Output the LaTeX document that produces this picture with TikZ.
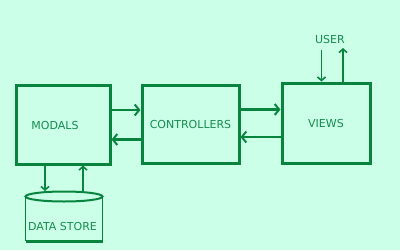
\documentclass[tikz,border=0pt]{standalone}
\usepackage{fontspec}
\setmainfont{DejaVu Sans}
\usetikzlibrary{arrows.meta}
\definecolor{mint}{RGB}{204,255,232}
\definecolor{leaf}{RGB}{8,132,62}
\definecolor{inkgreen}{RGB}{22,140,78}
\tikzset{
  block/.style={draw=leaf, line width=3pt, text=inkgreen, font=\fontsize{11}{13}\selectfont},
  flow/.style={draw=leaf, line width=2.6pt, -{Straight Barb[length=4.5pt,width=11pt,line width=2pt]}},
  thin flow/.style={draw=leaf, line width=1.6pt, -{Straight Barb[length=3.5pt,width=8pt,line width=1.6pt]}},
  label/.style={text=inkgreen, font=\fontsize{11}{13}\selectfont}
}
\begin{document}
\begin{tikzpicture}[x=1pt, y=-1pt]
\fill[mint] (0,0) rectangle (400,250);
\useasboundingbox (0,0) rectangle (400,250);
\node[block, minimum width=94pt, minimum height=79pt] (modals) at (63,124.5) {};
\node[label] at (55,125) {MODALS};
\node[block, minimum width=97pt, minimum height=78pt] (controllers) at (190.5,124) {CONTROLLERS};
\node[block, minimum width=88pt, minimum height=80pt] (views) at (326,123) {VIEWS};
\node[label] (user) at (330,39) {USER};
\node[label] (store) at (62.5,226) {DATA STORE};
% data store drum
\draw[leaf, line width=2pt] (64,196.5) ellipse (38.5pt and 5pt);
\draw[leaf, line width=1.6pt] (25.5,196.5) -- (25.5,241) (102.5,196.5) -- (102.5,241);
\draw[leaf, line width=3pt] (25.5,241) -- (102.5,241);
\coordinate (storein) at (45,191);
\coordinate (storeout) at (83,191);
% arrows
\draw[flow] (modals.east |- 0,110) -- (controllers.west |- 0,110);
\draw[flow] (controllers.west |- 0,139.5) -- (modals.east |- 0,139.5);
\draw[flow] (controllers.east |- 0,109.5) -- (views.west |- 0,109.5);
\draw[flow] (views.west |- 0,137) -- (controllers.east |- 0,137);
\draw[thin flow] (modals.south -| storein) -- (storein);
\draw[thin flow] (storeout) -- (modals.south -| storeout);
\draw[thin flow] (321.5,50) -- (views.north -| 321.5,0);
\draw[thin flow] (views.north -| 343,0) -- (343,48);
\end{tikzpicture}
\end{document}
